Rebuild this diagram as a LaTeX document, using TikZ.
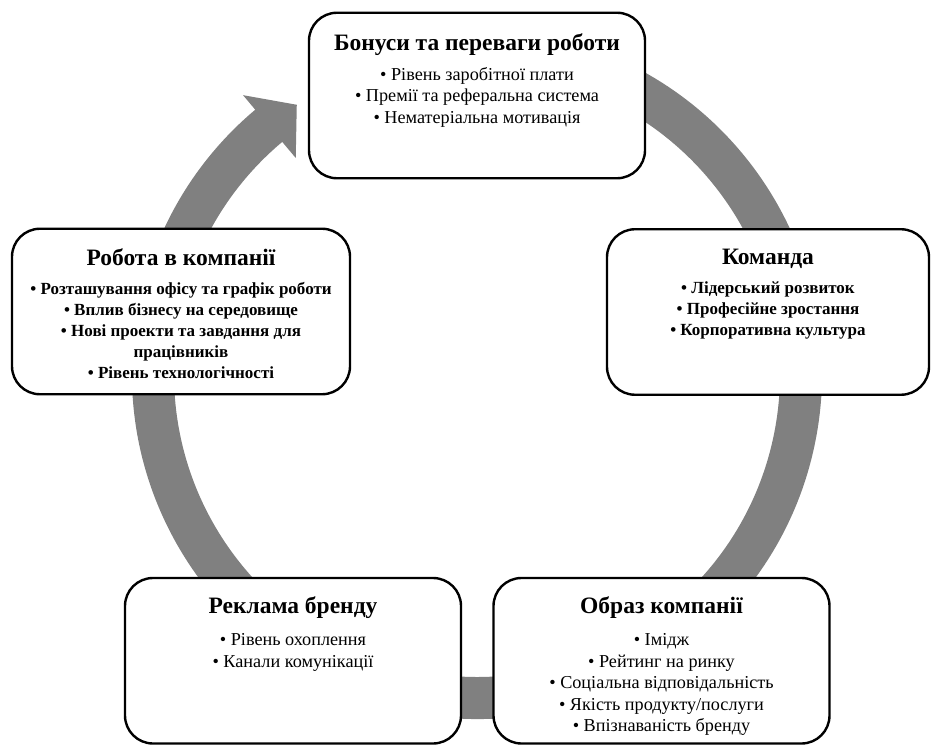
\documentclass[tikz,border=0pt]{standalone}
\usepackage{fontspec}
\setmainfont{Liberation Serif}
\usetikzlibrary{positioning,calc}
\definecolor{ringgray}{RGB}{128,128,128}
\tikzstyle{cyclebox} = [draw=black, line width=2.4pt, rounded corners=28pt, fill=white, minimum width=336pt, minimum height=165.5pt, inner sep=0pt]
\tikzstyle{boxtext} = [align=center, inner sep=0pt, font=\fontsize{18.2}{21.5}\selectfont]
\tikzstyle{boldtext} = [boxtext, font=\bfseries\fontsize{17}{21}\selectfont]
\newcommand{\boxtitle}[1]{{\bfseries\fontsize{23.5}{27}\selectfont #1}\\[8pt]}

\begin{document}
\begin{tikzpicture}[x=1pt,y=1pt]
	\useasboundingbox (0,0) rectangle (931,745);
	\coordinate (hub) at (477,371);
	% circular arrow behind the boxes
	\fill[ringgray] ($(hub)+(80:345)$) arc[start angle=80, end angle=-230, radius=345]
		-- ($(hub)+(130:364)$) -- ($(hub)+(123.8:324)$) -- ($(hub)+(130:282)$)
		-- ($(hub)+(130:303)$) arc[start angle=-230, end angle=80, radius=303] -- cycle;
	% boxes
	\node[cyclebox] (bonus) at (477,649.5) {};
	\node[cyclebox, minimum width=322pt] (team) at (768,433) {};
	\node[cyclebox, minimum width=338pt] (work) at (181,433.5) {};
	\node[cyclebox] (advert) at (293,84.25) {};
	\node[cyclebox] (image) at (661.5,84.25) {};
	% texts
	\node[boxtext, below=22pt of bonus.north] (bonustext) {\boxtitle{Бонуси та переваги роботи}• Рівень заробітної плати\\• Премії та реферальна система\\• Нематеріальна мотивація};
	\node[boldtext, below=21pt of team.north] (teamtext) {\boxtitle{Команда}• Лідерський розвиток\\• Професійне зростання\\• Корпоративна культура};
	\node[boldtext, below=21pt of work.north] (worktext) {\boxtitle{Робота в компанії}• Розташування офісу та графік роботи\\• Вплив бізнесу на середовище\\• Нові проекти та завдання для\\працівників\\• Рівень технологічності};
	\node[boxtext, below=20pt of advert.north] (adverttext) {\boxtitle{Реклама бренду}\\[-19pt]• Рівень охоплення\\• Канали комунікації};
	\node[boxtext, below=20pt of image.north] (imagetext) {\boxtitle{Образ компанії}\\[-19pt]• Імідж\\• Рейтинг на ринку\\• Соціальна відповідальність\\• Якість продукту/послуги\\• Впізнаваність бренду};
\end{tikzpicture}
\end{document}
